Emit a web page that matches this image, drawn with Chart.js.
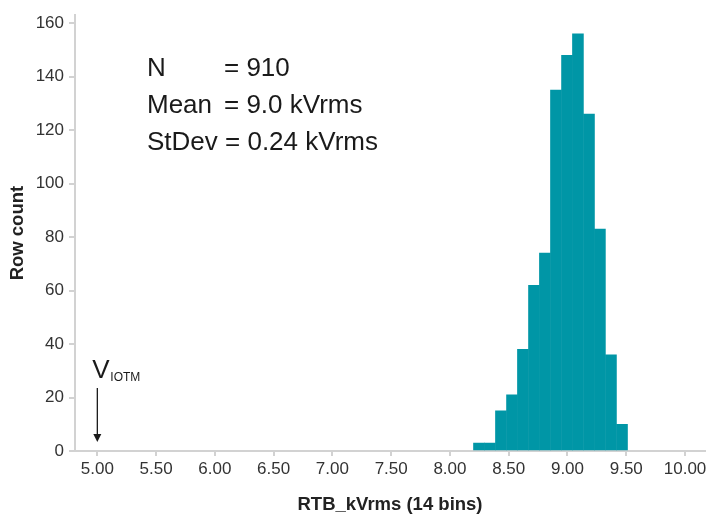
<!DOCTYPE html>
<html>
<head>
<meta charset="utf-8">
<script src="https://cdn.jsdelivr.net/npm/chart.js@4.4.1/dist/chart.umd.min.js"></script>
<style>
  html, body { margin: 0; padding: 0; background: #fff; }
  #wrap { width: 710px; height: 516px; position: relative; }
</style>
</head>
<body>
<div id="wrap"><canvas id="histChart"></canvas></div>
<script>
// histogram bins (centres, kVrms) and row counts
const binCenters = [8.247, 8.340, 8.434, 8.528, 8.621, 8.715, 8.808, 8.902, 8.996, 9.089, 9.183, 9.276, 9.370, 9.464];
const rowCounts  = [3, 3, 15, 21, 38, 62, 74, 135, 148, 156, 126, 83, 36, 10];

const xTicks = [5.00, 5.50, 6.00, 6.50, 7.00, 7.50, 8.00, 8.50, 9.00, 9.50, 10.00];
const yTicks = [0, 20, 40, 60, 80, 100, 120, 140, 160];

const statLabels = ["N", "Mean", "StDev = 0.24 kVrms"];
const statValues = ["= 910", "= 9.0 kVrms", ""];
const markerValue = 5.00;

const fontFamily = "'Liberation Sans', Arial, Helvetica, sans-serif";
const barColor = "rgb(0, 150, 166)";
const axisColor = "#d2d2d2";

// draws the stats box and the V_IOTM marker
const annotations = {
    id: "annotations",
    afterDatasetsDraw(chart) {
        const ctx = chart.ctx;
        const xs = chart.scales.x;
        ctx.save();
        ctx.fillStyle = "#1a1a1a";
        ctx.font = "26px " + fontFamily;
        ctx.textBaseline = "middle";
        ctx.textAlign = "left";
        const rowY = [69, 106, 143];
        for (let i = 0; i < statLabels.length; i++) {
            ctx.fillText(statLabels[i], 147, rowY[i]);
            if (statValues[i]) ctx.fillText(statValues[i], 224, rowY[i]);
        }

        // marker arrow
        const mx = xs.getPixelForValue(markerValue);
        ctx.textBaseline = "alphabetic";
        ctx.fillText("V", mx - 5, 378);
        ctx.font = "12px " + fontFamily;
        ctx.fillText("IOTM", mx + 13, 381);

        const top = 388, bottom = 442;
        ctx.strokeStyle = "#1a1a1a";
        ctx.lineWidth = 1.3;
        ctx.beginPath();
        ctx.moveTo(mx, top);
        ctx.lineTo(mx, bottom - 6);
        ctx.stroke();
        ctx.beginPath();
        ctx.moveTo(mx - 4, bottom - 8);
        ctx.lineTo(mx + 4, bottom - 8);
        ctx.lineTo(mx, bottom);
        ctx.closePath();
        ctx.fill();
        ctx.restore();
    }
};

const ctx = document.getElementById("histChart").getContext("2d");

new Chart(ctx, {
    type: "bar",
    data: {
        datasets: [{
            label: "Row count",
            data: binCenters.map((x, i) => ({ x: x, y: rowCounts[i] })),
            backgroundColor: barColor,
            borderWidth: 0,
            barPercentage: 1.0,
            categoryPercentage: 1.0
        }]
    },
    options: {
        responsive: true,
        maintainAspectRatio: false,
        animation: false,
        layout: {
            padding: { left: 7, right: 5, top: 12, bottom: 0 }
        },
        scales: {
            x: {
                type: "linear",
                offset: false,
                min: 4.81,
                max: 10.17,
                afterBuildTicks: axis => { axis.ticks = xTicks.map(v => ({ value: v })); },
                afterFit: axis => { axis.height = 65; },
                grid: {
                    offset: false,
                    drawOnChartArea: false,
                    drawTicks: true,
                    tickLength: 5,
                    color: axisColor,
                    lineWidth: 2
                },
                border: { display: true, color: axisColor, width: 2 },
                ticks: {
                    color: "#333",
                    padding: 3,
                    maxRotation: 0,
                    font: { family: fontFamily, size: 17 },
                    callback: v => Number(v).toFixed(2)
                },
                title: {
                    display: true,
                    text: "RTB_kVrms (14 bins)",
                    color: "#222",
                    padding: { top: 14, bottom: 0 },
                    font: { family: fontFamily, size: 18.5, weight: "bold" }
                }
            },
            y: {
                min: 0,
                max: 163,
                afterBuildTicks: axis => { axis.ticks = yTicks.map(v => ({ value: v })); },
                afterFit: axis => { axis.width = 68; },
                grid: {
                    drawOnChartArea: false,
                    drawTicks: true,
                    tickLength: 6,
                    color: axisColor,
                    lineWidth: 2
                },
                border: { display: true, color: axisColor, width: 2 },
                ticks: {
                    color: "#333",
                    padding: 5,
                    font: { family: fontFamily, size: 17 }
                },
                title: {
                    display: true,
                    text: "Row count",
                    color: "#222",
                    padding: { top: 0, bottom: 0 },
                    font: { family: fontFamily, size: 18.5, weight: "bold" }
                }
            }
        },
        plugins: {
            legend: { display: false },
            tooltip: { enabled: false }
        }
    },
    plugins: [annotations]
});
</script>
</body>
</html>
